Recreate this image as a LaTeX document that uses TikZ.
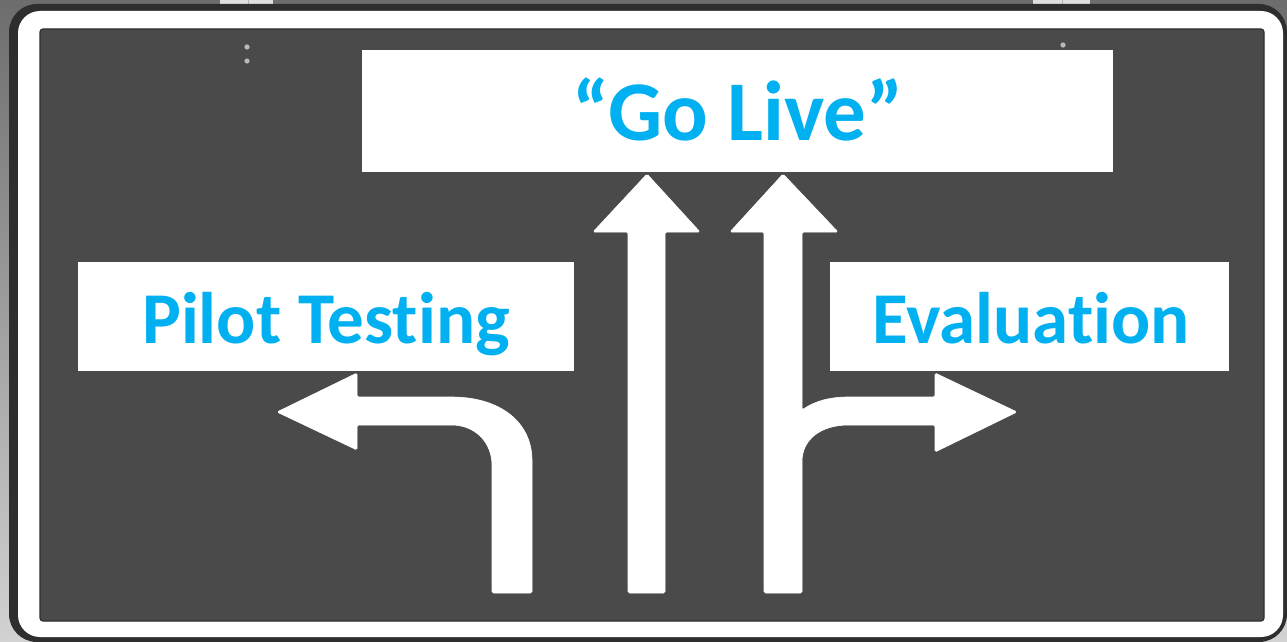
\documentclass[tikz,border=0pt]{standalone}
\usepackage{fontspec}
\newfontfamily\labelfont[Ligatures=NoCommon]{Carlito}
\definecolor{panel}{HTML}{4A4A4A}
\definecolor{edge}{HTML}{2E2E2E}
\definecolor{signblue}{HTML}{00B0F0}
\tikzset{
  sign arrow/.style={fill=white, draw=white, line width=0.6pt, rounded corners=1.5pt},
  label box/.style={fill=white, inner sep=0pt},
  label text/.style={text=signblue, font=\labelfont\bfseries\fontsize{73}{80}\selectfont, anchor=base},
}
\begin{document}
\begin{tikzpicture}[x=1pt, y=-1pt]
\useasboundingbox (0,0) rectangle (1287,642);
% surroundings
\shade[top color=gray!85!black, bottom color=gray!35] (0,0) rectangle (1287,642);
% mounting brackets
\fill[gray!25] (220,0) rectangle (273,6);
\fill[gray!25] (1033,0) rectangle (1090,6);
\draw[gray!60, line width=1pt] (248,0) -- (248,6) (1062,0) -- (1062,6);
% sign body
\fill[edge, rounded corners=28pt] (9,4) rectangle (1287,642);
\fill[white, rounded corners=22pt] (18,11) rectangle (1283,637);
\fill[panel, draw=edge, line width=1.2pt, rounded corners=3pt] (40,29) rectangle (1264,621);
% rivets
\fill[gray!55] (247,47) circle (2.6pt) (247,61) circle (2.6pt) (1063,45) circle (2.6pt);
% label boxes
\node[label box, minimum width=751pt, minimum height=122pt] (golive) at (737.5,111) {};
\node[label box, minimum width=496pt, minimum height=109pt] (pilot) at (326,316.5) {};
\node[label box, minimum width=399pt, minimum height=109pt] (eval) at (1029.5,316.5) {};
\node[label text, font=\labelfont\bfseries\fontsize{85}{92}\selectfont] (golivetext) at (738,140) {“Go Live”};
\node[label text] (pilottext) at (326,343) {Pilot Testing};
\node[label text] (evaltext) at (1031,343) {Evaluation};
% left-turn arrow
\path[sign arrow] (492,593) -- (492,467) .. controls (492,442) and (475,425) .. (450,425)
  -- (357,425) -- (357,450) -- (277,412) -- (357,373) -- (357,397) -- (450,397)
  .. controls (500,397) and (532,422) .. (532,462) -- (532,593) -- cycle;
% straight arrow (left)
\path[sign arrow] (628,593) -- (628,232) -- (593,232) -- (647,174) -- (700,232)
  -- (665,232) -- (665,593) -- cycle;
% straight arrow with right branch
\path[sign arrow] (764,593) -- (764,232) -- (730,232) -- (783,174) -- (838,232)
  -- (802,232) -- (802,410) .. controls (815,401) and (830,397) .. (850,397)
  -- (935,397) -- (935,373) -- (1017,412) -- (935,452) -- (935,425) -- (850,425)
  .. controls (820,425) and (802,440) .. (802,463) -- (802,593) -- cycle;
\end{tikzpicture}
\end{document}
